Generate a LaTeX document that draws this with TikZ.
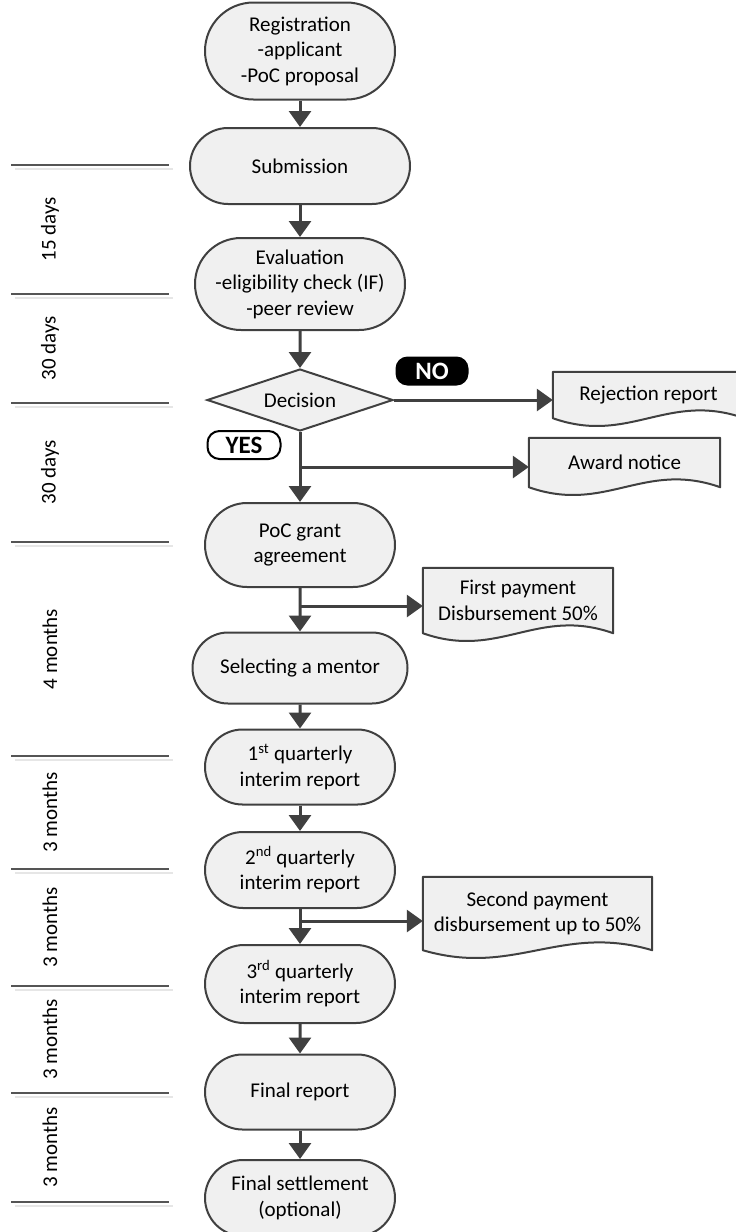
\documentclass[tikz,border=0pt]{standalone}
\usepackage{fontspec}
\setmainfont{Carlito}
\usepackage{tikz}
\usetikzlibrary{calc, arrows.meta, shapes.geometric, shapes.misc, backgrounds, positioning}
\definecolor{FlowLine}{HTML}{404040}
\definecolor{FlowFill}{HTML}{F0F0F0}
\definecolor{TickDark}{HTML}{555555}
\definecolor{TickLight}{HTML}{E6E6E6}

% document outline with a wavy bottom, drawn behind node #1
\newcommand{\docshape}[1]{%
  \begin{pgfonlayer}{background}
    \draw[FlowLine, line width=2pt, fill=FlowFill, line join=round]
      (#1.south west) -- (#1.north west) -- (#1.north east) -- (#1.south east)
      .. controls ($(#1.south east)!0.4!(#1.south west)+(0,-27)$)
      and ($(#1.south east)!0.6!(#1.south west)+(0,27)$) .. (#1.south west) -- cycle;
  \end{pgfonlayer}}

\begin{document}
\begin{tikzpicture}[x=1pt, y=-1pt,
    font=\fontsize{21}{25.5}\selectfont,
    term/.style={rounded rectangle, draw=FlowLine, line width=2pt, fill=FlowFill,
      align=center, inner sep=0pt, minimum width=190pt},
    decide/.style={diamond, aspect=3, draw=FlowLine, line width=2pt, fill=FlowFill,
      inner sep=0pt},
    doc/.style={rectangle, align=center, inner sep=0pt},
    flow/.style={draw=FlowLine, line width=3pt, -{Triangle[length=16pt, width=22pt]}},
    answer/.style={rounded corners=12pt, minimum width=73pt, minimum height=29pt,
      inner sep=0pt, font=\fontsize{25}{25}\selectfont\bfseries}]
  \useasboundingbox (0,0) rectangle (736,1232);

  % time scale on the left
  \foreach \y [count=\i] in {165,294,403,542,756,869,986,1093,1202} {
    \draw[TickDark, line width=1.5pt] (11,\y) -- (169,\y);
    \draw[TickLight, line width=1.5pt] (15,\y+4) -- (173,\y+4);
    \coordinate (t\i) at (50,\y);
  }
  \foreach \a/\b/\span in {1/2/15 days, 2/3/30 days, 3/4/30 days, 4/5/4 months,
      5/6/3 months, 6/7/3 months, 7/8/3 months, 8/9/3 months}
    \node[rotate=90] (span\a) at ($(t\a)!0.5!(t\b)$) {\span};

  % main flow
  \node[term, minimum height=97pt] (reg) at (300,51) {Registration\\-applicant\\-PoC proposal};
  \node[term, minimum width=220pt, minimum height=76pt] (sub) at (300,166) {Submission};
  \node[term, minimum width=210pt, minimum height=92pt] (eval) at (300,284)
    {Evaluation\\-eligibility check (IF)\\-peer review};
  \node[decide, minimum width=186pt, minimum height=62pt] (dec) at (300,400) {Decision};
  \node[term, minimum height=84pt] (grant) at (300,545) {PoC grant\\agreement};
  \node[term, minimum width=215pt, minimum height=71pt] (mentor) at (300,668) {Selecting a mentor};
  \node[term, minimum height=75pt] (q1) at (300,767) {1\textsuperscript{st} quarterly\\interim report};
  \node[term, minimum height=76pt] (q2) at (300,870) {2\textsuperscript{nd} quarterly\\interim report};
  \node[term, minimum height=78pt] (q3) at (300,984) {3\textsuperscript{rd} quarterly\\interim report};
  \node[term, minimum height=75pt] (final) at (300,1092) {Final report};
  \node[term, minimum height=76pt] (settle) at (300,1198) {Final settlement\\(optional)};

  % documents on the right
  \node[doc, minimum width=191pt, minimum height=46pt] (rej) at (648.5,395) {Rejection report};
  \node[doc, minimum width=191pt, minimum height=49pt] (award) at (624.5,462.5) {Award notice};
  \node[doc, minimum width=190pt, minimum height=65pt] (pay1) at (518,600.5)
    {First payment\\Disbursement 50\%};
  \node[doc, minimum width=229pt, minimum height=73pt] (pay2) at (537.5,913.5)
    {Second payment\\disbursement up to 50\%};
  \docshape{rej}
  \docshape{award}
  \docshape{pay1}
  \docshape{pay2}

  % answers
  \node[answer, fill=black, text=white] (no) at (432,371) {NO};
  \node[answer, draw=black, line width=2pt, fill=white, minimum height=28pt] (yes) at (244,445) {YES};

  % connectors
  \coordinate (yesfork) at (300,467);
  \coordinate (payfork1) at (300,606);
  \coordinate (payfork2) at (300,921);
  \draw[flow] (reg) -- (sub);
  \draw[flow] (sub) -- (eval);
  \draw[flow] (eval) -- (dec);
  \draw[flow] (dec.east) -- (dec.east -| rej.west);
  \draw[flow] (dec) -- (grant);
  \draw[flow] (yesfork) -- (yesfork -| award.west);
  \draw[flow] (grant) -- (mentor);
  \draw[flow] (payfork1) -- (payfork1 -| pay1.west);
  \draw[flow] (mentor) -- (q1);
  \draw[flow] (q1) -- (q2);
  \draw[flow] (q2) -- (q3);
  \draw[flow] (payfork2) -- (payfork2 -| pay2.west);
  \draw[flow] (q3) -- (final);
  \draw[flow] (final) -- (settle);
\end{tikzpicture}
\end{document}
